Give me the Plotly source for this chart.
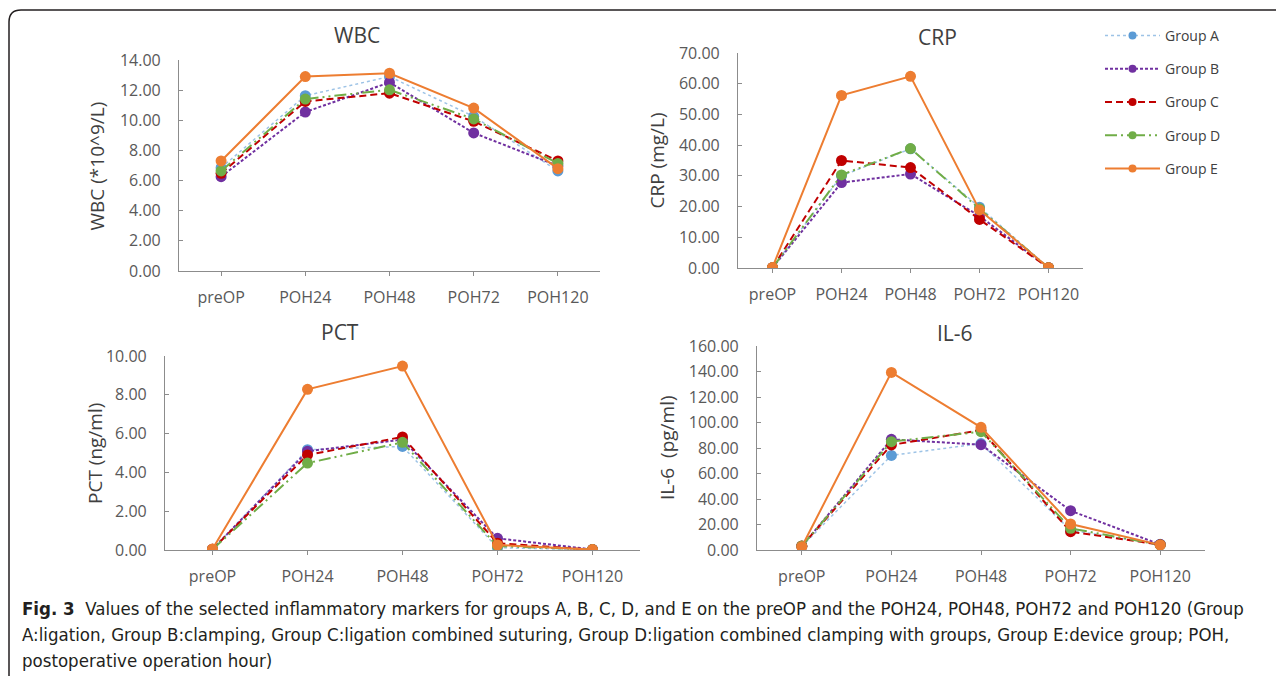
import plotly.graph_objects as go

W, H = 1284, 676
OX, OY = 8, 8  # page body margin offset in the browser

timepoints = ["preOP", "POH24", "POH48", "POH72", "POH120"]
groups = ["Group A", "Group B", "Group C", "Group D", "Group E"]

wbc_A = [6.85, 11.63, 12.90, 10.26, 6.64]
wbc_B = [6.26, 10.55, 12.51, 9.16, 6.97]
wbc_C = [6.48, 11.25, 11.80, 9.93, 7.30]
wbc_D = [6.64, 11.41, 12.02, 10.09, 7.14]
wbc_E = [7.30, 12.90, 13.12, 10.81, 6.79]

crp_A = [0.10, 30.0, 38.8, 19.8, 0.10]
crp_B = [0.10, 27.8, 30.6, 16.9, 0.10]
crp_C = [0.10, 35.0, 32.7, 15.8, 0.10]
crp_D = [0.10, 30.3, 38.9, 19.3, 0.10]
crp_E = [0.20, 56.2, 62.4, 18.9, 0.10]

pct_A = [0.03, 5.17, 5.34, 0.12, 0.01]
pct_B = [0.04, 5.09, 5.69, 0.60, 0.03]
pct_C = [0.04, 4.90, 5.83, 0.35, 0.02]
pct_D = [0.03, 4.48, 5.55, 0.20, 0.02]
pct_E = [0.05, 8.28, 9.48, 0.26, 0.02]

il6_A = [2.8, 74.2, 83.5, 15.5, 4.5]
il6_B = [3.0, 86.8, 82.6, 30.8, 4.3]
il6_C = [3.2, 82.4, 94.0, 14.4, 4.2]
il6_D = [3.1, 85.0, 92.8, 17.0, 4.0]
il6_E = [2.6, 139.3, 96.2, 20.4, 4.0]

styles = {
    "Group A": dict(line=dict(color="#9DC3E6", width=1.5, dash="dot"), marker="#5B9BD5"),
    "Group B": dict(line=dict(color="#7030A0", width=2, dash="3px,2px"), marker="#7030A0"),
    "Group C": dict(line=dict(color="#C00000", width=2, dash="7px,4px"), marker="#C00000"),
    "Group D": dict(line=dict(color="#70AD47", width=2, dash="12px,4px,2px,4px,2px,4px"), marker="#70AD47"),
    "Group E": dict(line=dict(color="#ED7D31", width=2), marker="#ED7D31"),
}

panels = [
    dict(name="WBC", ytitle="WBC (*10^9/L)", data=[wbc_A, wbc_B, wbc_C, wbc_D, wbc_E],
         ymax=14, dtick=2, px_x=(179, 600), px_y=(60, 271), title_pos=(357, 35), ytitle_x=97),
    dict(name="CRP", ytitle="CRP (mg/L)", data=[crp_A, crp_B, crp_C, crp_D, crp_E],
         ymax=70, dtick=10, px_x=(738, 1083), px_y=(53, 268), title_pos=(937, 37), ytitle_x=657),
    dict(name="PCT", ytitle="PCT (ng/ml)", data=[pct_A, pct_B, pct_C, pct_D, pct_E],
         ymax=10, dtick=2, px_x=(165, 640), px_y=(356, 550), title_pos=(340, 332), ytitle_x=95),
    dict(name="IL-6", ytitle="IL-6  (pg/ml)", data=[il6_A, il6_B, il6_C, il6_D, il6_E],
         ymax=160, dtick=20, px_x=(757, 1205), px_y=(346, 550), title_pos=(955, 333), ytitle_x=667),
]


def px(x):
    return (x - OX) / W


def py(y):
    return 1 - (y - OY) / H


FONT = "Open Sans, Noto Sans, sans-serif"
AXC = "#8C8C8C"
TXT = "#595959"

fig = go.Figure()
annotations = []

for i, p in enumerate(panels):
    n = "" if i == 0 else str(i + 1)
    xa, ya = "xaxis" + n, "yaxis" + n
    for g, vals in zip(groups, p["data"]):
        st = styles[g]
        fig.add_trace(go.Scatter(
            x=timepoints, y=vals, mode="lines+markers", name=g, showlegend=False,
            line=st["line"], marker=dict(color=st["marker"], size=11),
            xaxis="x" + n, yaxis="y" + n))
    x0, x1 = p["px_x"]
    y0, y1 = p["px_y"]
    fig.update_layout(**{
        xa: dict(domain=[px(x0), px(x1)], anchor="y" + n, type="category",
                 categoryorder="array", categoryarray=timepoints, range=[-0.5, 4.5],
                 showline=True, linecolor=AXC, linewidth=1.2, ticks="outside", ticklen=4,
                 tickcolor=AXC, showgrid=False, zeroline=False, ticklabelstandoff=8,
                 automargin=False,
                 tickfont=dict(family=FONT, size=16, color=TXT)),
        ya: dict(domain=[py(y1), py(y0)], anchor="x" + n, range=[0, p["ymax"]],
                 dtick=p["dtick"], tick0=0, tickformat=".2f", showline=True, linecolor=AXC,
                 linewidth=1.2, ticks="inside", ticklen=4, tickcolor=AXC, showgrid=False,
                 zeroline=False, ticklabelstandoff=14, automargin=False,
                 tickfont=dict(family=FONT, size=16, color=TXT)),
    })
    tx, ty = p["title_pos"]
    annotations.append(dict(text=p["name"], x=px(tx), y=py(ty), xref="paper", yref="paper",
                            showarrow=False, xanchor="center", yanchor="middle",
                            font=dict(family=FONT, size=21, color="#404040")))
    annotations.append(dict(text=p["ytitle"], x=px(p["ytitle_x"]), y=py((y0 + y1) / 2),
                            xref="paper", yref="paper", showarrow=False, textangle=-90,
                            xanchor="center", yanchor="middle",
                            font=dict(family=FONT, size=19, color="#404040")))

# legend-only entries
for g in groups:
    st = styles[g]
    fig.add_trace(go.Scatter(x=[None], y=[None], mode="lines+markers", name=g,
                             line=st["line"], marker=dict(color=st["marker"], size=8),
                             legendgroup=g, showlegend=True))

CAP = "DejaVu Sans Condensed, Liberation Sans Narrow, sans-serif"
cap_lines = [
    "<b>Fig. 3</b>  Values of the selected inflammatory markers for groups A, B, C, D, and E on the preOP and the POH24, POH48, POH72 and POH120 (Group",
    "A:ligation, Group B:clamping, Group C:ligation combined suturing, Group D:ligation combined clamping with groups, Group E:device group; POH,",
    "postoperative operation hour)",
]
for k, t in enumerate(cap_lines):
    annotations.append(dict(text=t, x=px(20), y=py(608 + 26 * k), xref="paper", yref="paper",
                            showarrow=False, xanchor="left", yanchor="middle", align="left",
                            font=dict(family=CAP, size=18.5, color="#231F20")))

fig.update_layout(
    width=W, height=H, margin=dict(l=0, r=0, t=0, b=0, pad=0, autoexpand=False),
    paper_bgcolor="white", plot_bgcolor="white",
    annotations=annotations,
    legend=dict(x=px(1100), y=py(20), xanchor="left", yanchor="top",
                font=dict(family=FONT, size=14, color="#404040"),
                tracegroupgap=12, itemwidth=55, bgcolor="rgba(0,0,0,0)",
                traceorder="grouped"),
    shapes=[dict(type="path", xref="paper", yref="paper",
                 path=(f"M 1,{py(10)} L {px(21)},{py(10)} Q {px(9)},{py(10)} {px(9)},{py(22)} "
                       f"L {px(9)},0"),
                 line=dict(color="#231F20", width=1.5))],
)

fig.write_html("out.html")
